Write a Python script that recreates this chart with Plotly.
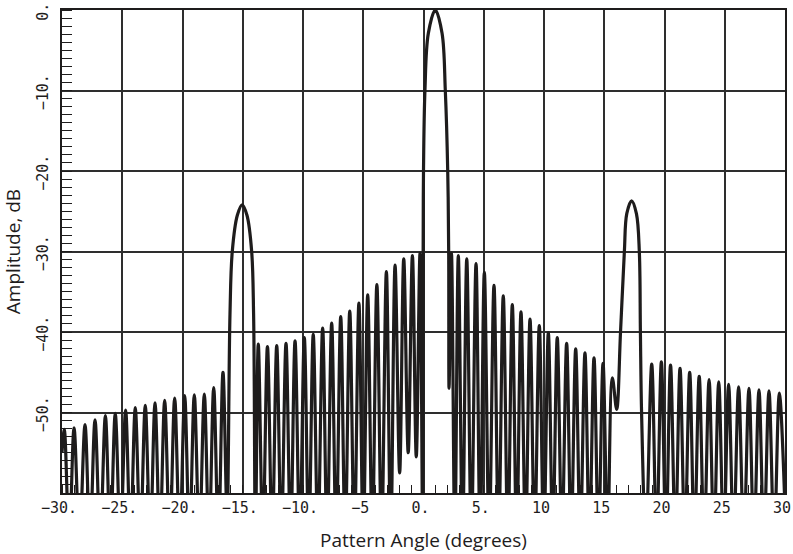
import plotly.graph_objects as go

# ---- data (angle in degrees, amplitude in dB) ----
far_left_deg = [-30.0, -29.81, -29.4, -29.0, -28.55, -28.09, -27.68, -27.26, -26.83, -26.4,
                -25.99, -25.58, -25.15, -24.72, -24.32, -23.92, -23.5, -23.09, -22.68, -22.28,
                -21.88, -21.48, -21.06, -20.65, -20.23, -19.82, -19.42, -19.02, -18.6, -18.19,
                -17.8, -17.41, -17.02, -16.64]
far_left_db = [-55.0, -52.1, -66, -51.9, -66, -51.5, -66, -50.9, -66, -50.4,
               -66, -50.1, -66, -49.7, -66, -49.4, -66, -49.1, -66, -48.8,
               -66, -48.5, -66, -48.2, -66, -47.9, -66, -47.8, -66, -47.7,
               -66, -46.9, -66, -45.0]

grating_left_deg = [-16.3, -16.06, -15.87, -15.45, -15.05, -14.65, -14.26, -14.1, -13.95]
grating_left_db = [-63, -37.8, -30.0, -25.5, -24.2, -25.5, -30.0, -37.8, -66]

inner_left_deg = [-13.71, -13.33, -12.95, -12.56, -12.18, -11.8, -11.41, -11.03, -10.66, -10.27,
                  -9.89, -9.52, -9.15, -8.76, -8.37, -8.0, -7.62, -7.25, -6.87, -6.5,
                  -6.12, -5.74, -5.36, -5.0, -4.63, -4.25, -3.87, -3.48, -3.08, -2.72,
                  -2.36, -1.98, -1.64, -1.27, -0.92, -0.6, -0.29, -0.07]
inner_left_db = [-41.5, -66, -41.8, -66, -41.7, -66, -41.4, -66, -41.1, -66,
                 -40.7, -66, -40.3, -66, -39.5, -66, -38.9, -66, -38.1, -66,
                 -37.4, -66, -36.4, -66, -35.4, -66, -34.1, -66, -32.5, -66,
                 -31.7, -57.5, -30.9, -55.0, -30.5, -55.5, -30.2, -66]

main_deg = [-0.03, 0.0, 0.12, 0.40, 0.98, 1.54, 1.81, 2.01, 2.09, 2.12]
main_db = [-30.0, -20.0, -10.0, -2.9, 0.0, -2.9, -10.0, -20.0, -30.0, -47.0]

inner_right_deg = [2.32, 2.6, 2.89, 3.24, 3.59, 3.97, 4.36, 4.7, 5.05, 5.45,
                   5.85, 6.23, 6.62, 7.0, 7.37, 7.73, 8.09, 8.47, 8.84, 9.22,
                   9.61, 9.98, 10.36, 10.73, 11.1, 11.49, 11.88, 12.25, 12.63, 13.01,
                   13.4, 13.77, 14.15, 14.52, 14.9, 15.28, 15.67, 16.03]
inner_right_db = [-30.2, -66, -30.5, -66, -30.9, -66, -31.5, -66, -32.6, -66,
                  -34.2, -66, -35.5, -66, -36.6, -66, -37.5, -66, -38.4, -66,
                  -39.2, -66, -40.1, -66, -40.7, -66, -41.4, -66, -42.1, -66,
                  -42.6, -66, -43.2, -66, -43.9, -66, -45.7, -49.6]

grating_right_deg = [16.35, 16.67, 16.87, 17.27, 17.67, 17.91, 18.0, 18.1, 18.45]
grating_right_db = [-40.0, -30.0, -25.3, -23.7, -25.3, -30.0, -40.0, -50.2, -66]

far_right_deg = [18.94, 19.34, 19.74, 20.12, 20.5, 20.9, 21.29, 21.69, 22.09, 22.48,
                 22.88, 23.29, 23.7, 24.1, 24.5, 24.91, 25.32, 25.73, 26.15, 26.58,
                 27.01, 27.42, 27.84, 28.25, 28.67, 29.1, 29.53, 30.0]
far_right_db = [-44.0, -66, -43.7, -66, -44.1, -66, -44.5, -66, -45.0, -66,
                -45.5, -66, -45.9, -66, -46.2, -66, -46.5, -66, -46.8, -66,
                -47.0, -66, -47.2, -66, -47.3, -66, -47.6, -62]

x_tickvals = [-30, -25, -20, -15, -10, -5, 0, 5, 10, 15, 20, 25, 30]
x_ticktext = ["\u221230.", "\u221225.", "\u221220.", "\u221215.", "\u221210.", "\u22125",
              "0.", "5.", "10", "15", "20", "25", "30"]
y_tickvals = [0, -10, -20, -30, -40, -50]
y_ticktext = ["0.", "\u221210.", "\u221220.", "\u221230.", "\u221240.", "\u221250."]

angle = (far_left_deg + grating_left_deg + inner_left_deg + main_deg
         + inner_right_deg + grating_right_deg + far_right_deg)
amp = (far_left_db + grating_left_db + inner_left_db + main_db
       + inner_right_db + grating_right_db + far_right_db)

INK = "#1e1c1c"
GRID = "#2e2e2e"
tick_font = dict(family="DejaVu Sans Mono", size=15, color=INK)
title_font = dict(family="Open Sans", size=19, color=INK)

fig = go.Figure()
fig.add_trace(go.Scatter(
    x=angle, y=amp, mode="lines",
    line=dict(color=INK, width=3.2, shape="spline", smoothing=1.0),
    showlegend=False, hoverinfo="x+y",
))

fig.update_layout(
    width=793, height=554, autosize=False,
    margin=dict(l=62, r=8, t=10, b=61),
    paper_bgcolor="white", plot_bgcolor="white",
)
fig.update_xaxes(
    range=[-30, 30], tickvals=x_tickvals, ticktext=x_ticktext,
    tickfont=tick_font, ticks="", showgrid=True, gridcolor=GRID, gridwidth=1.5,
    zeroline=False, showline=True, linecolor=INK, linewidth=1.5, mirror=True,
    minor=dict(dtick=1, ticks="inside", ticklen=8, tickwidth=1.3, tickcolor=INK, showgrid=False),
    title=dict(text="Pattern Angle (degrees)", font=title_font, standoff=18),
    ticklabelshift=-3, ticklabeloverflow="allow", automargin=False,
)
fig.update_yaxes(
    range=[-60, 0], tickvals=y_tickvals, ticktext=y_ticktext, tickangle=-90,
    tickfont=tick_font, ticks="", showgrid=True, gridcolor=GRID, gridwidth=1.5,
    zeroline=False, showline=True, linecolor=INK, linewidth=1.5, mirror=True,
    minor=dict(dtick=1, ticks="inside", ticklen=10, tickwidth=1.3, tickcolor=INK, showgrid=False),
    title=dict(text="Amplitude, dB", font=title_font, standoff=14),
    ticklabelstandoff=6, ticklabelshift=4,
    ticklabeloverflow="allow", automargin=False,
)

# remove the browser's default 8 px page margin so the 793x554 figure fills the window
fig.write_html("out.html", config={"displayModeBar": False},
               post_script="document.body.style.margin = '0px';")
